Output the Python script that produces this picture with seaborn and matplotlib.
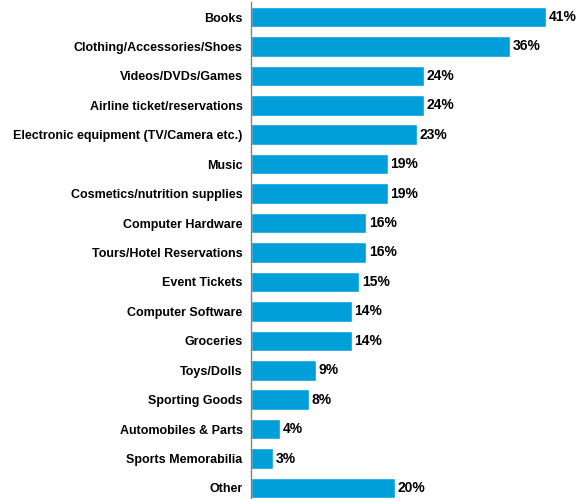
import matplotlib
matplotlib.use("Agg")
import matplotlib.pyplot as plt
import seaborn as sns
import pandas as pd
import numpy as np

categories = [
    "Books",
    "Clothing/Accessories/Shoes",
    "Videos/DVDs/Games",
    "Airline ticket/reservations",
    "Electronic equipment (TV/Camera etc.)",
    "Music",
    "Cosmetics/nutrition supplies",
    "Computer Hardware",
    "Tours/Hotel Reservations",
    "Event Tickets",
    "Computer Software",
    "Groceries",
    "Toys/Dolls",
    "Sporting Goods",
    "Automobiles & Parts",
    "Sports Memorabilia",
    "Other",
]
values = [41, 36, 24, 24, 23, 19, 19, 16, 16, 15, 14, 14, 9, 8, 4, 3, 20]

df = pd.DataFrame({"category": categories, "value": values})

sns.set_style("white")
plt.rcParams["font.family"] = ["Liberation Sans", "DejaVu Sans"]

W, H = 577, 499
fig = plt.figure(figsize=(W / 100, H / 100), dpi=100)
left = 251 / W
top_px = 2.3
bottom_px = 502.7
ax = fig.add_axes([left, 1 - bottom_px / H, 1 - left, (bottom_px - top_px) / H])

bar_color = "#009FDA"
sns.barplot(data=df, x="value", y="category", color=bar_color, saturation=1,
            width=0.7, ax=ax, orient="h")

ax.set_xlim(0, (W - 251) / 7.2)
ax.set_ylim(len(categories) - 0.5, -0.5)
ax.set_xlabel("")
ax.set_ylabel("")
ax.set_xticks([])

for s in ["top", "right", "bottom"]:
    ax.spines[s].set_visible(False)
ax.spines["left"].set_color("#808080")
ax.spines["left"].set_linewidth(1.0)

ax.set_yticks(range(len(categories)))
ax.set_yticklabels(categories, fontsize=9.0, fontweight="bold", color="black")
ax.tick_params(axis="y", which="major", length=0, pad=6)
ax.set_yticks(np.arange(-0.5, len(categories) + 0.5, 1), minor=True)
ax.tick_params(axis="y", which="minor", length=3, width=1, color="#808080", direction="out")

for cont in ax.containers:
    ax.bar_label(cont, labels=[f"{v}%" for v in values], padding=2,
                 fontsize=10, fontweight="bold", color="black")

fig.savefig("out.png", dpi=100)
